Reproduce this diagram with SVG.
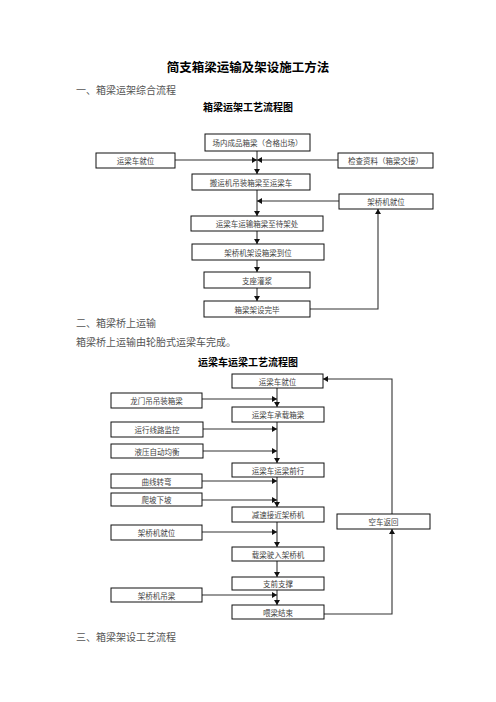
<svg xmlns="http://www.w3.org/2000/svg" width="496" height="702" viewBox="0 0 496 702">
<defs>
<marker id="ah" markerUnits="userSpaceOnUse" markerWidth="6" markerHeight="6" refX="5" refY="3" orient="auto">
<path d="M0,0 L5,3 L0,6 Z" fill="#111"/>
</marker>
</defs>
<style>
text{font-family:"Noto Sans CJK SC","Noto Sans",sans-serif}
.t{font-size:12.5px;font-weight:bold;fill:#000;text-anchor:middle}
.h{font-size:10px;fill:#555}
.st{font-size:10px;font-weight:bold;fill:#000;text-anchor:middle}
.n rect{fill:#fff;stroke:#111;stroke-width:1}
.n text{font-size:7.5px;fill:#444;text-anchor:middle;dominant-baseline:central}
.c path{fill:none;stroke:#333;stroke-width:1.1}
.c .a{marker-end:url(#ah)}
</style>
<rect width="496" height="702" fill="#fff"/>
<text class="t" x="248" y="72">简支箱梁运输及架设施工方法</text>
<text class="h" x="76" y="94">一、箱梁运架综合流程</text>
<text class="st" x="248" y="111">箱梁运架工艺流程图</text>
<text class="h" x="76" y="327">二、箱梁桥上运输</text>
<text class="h" x="76" y="346">箱梁桥上运输由轮胎式运梁车完成。</text>
<text class="st" x="248" y="366">运梁车运梁工艺流程图</text>
<text class="h" x="76" y="641">三、箱梁架设工艺流程</text>

<g class="c">
<path class="a" d="M257,151 V174"/>
<path class="a" d="M175,160 H257"/>
<path class="a" d="M338,160 H257"/>
<path class="a" d="M257,190 V216"/>
<path class="a" d="M339,201 H257"/>
<path class="a" d="M257,231 V244"/>
<path class="a" d="M257,260 V272"/>
<path class="a" d="M257,288 V301"/>
<path class="a" d="M310,309 H378 V209"/>

<path class="a" d="M277,388 V407"/>
<path class="a" d="M202,399 H277"/>
<path class="a" d="M277,422 V463"/>
<path class="a" d="M203,429 H277"/>
<path class="a" d="M203,451 H277"/>
<path class="a" d="M277,477 V507"/>
<path class="a" d="M202,481 H277"/>
<path class="a" d="M202,500 H277"/>
<path class="a" d="M277,522 V547"/>
<path class="a" d="M202,532 H277"/>
<path class="a" d="M277,561 V577"/>
<path class="a" d="M277,590 V605"/>
<path class="a" d="M202,595 H277"/>
<path class="a" d="M324,614 H392 V529"/>
<path class="a" d="M392,514 V379 H323"/>
</g>

<g id="n1" class="n"><rect x="205" y="134" width="105" height="17"/><text x="257.5" y="142.5">场内成品箱梁（合格出场）</text></g>
<g id="n2" class="n"><rect x="96" y="153" width="79" height="15"/><text x="135.5" y="160.5">运梁车就位</text></g>
<g id="n3" class="n"><rect x="338" y="153" width="95" height="15"/><text x="385.5" y="160.5">检查资料（箱梁交接）</text></g>
<g id="n4" class="n"><rect x="192" y="174" width="118" height="16"/><text x="251" y="182">搬运机吊装箱梁至运梁车</text></g>
<g id="n5" class="n"><rect x="339" y="194" width="94" height="15"/><text x="386" y="201.5">架桥机就位</text></g>
<g id="n6" class="n"><rect x="191" y="216" width="132" height="15"/><text x="257" y="223.5">运梁车运输箱梁至待架处</text></g>
<g id="n7" class="n"><rect x="192" y="244" width="132" height="16"/><text x="258" y="252">架桥机架设箱梁到位</text></g>
<g id="n8" class="n"><rect x="204" y="272" width="106" height="16"/><text x="257" y="280">支座灌浆</text></g>
<g id="n9" class="n"><rect x="204" y="301" width="106" height="16"/><text x="257" y="309">箱梁架设完毕</text></g>

<g id="m1" class="n"><rect x="232" y="374" width="91" height="14"/><text x="277.5" y="381">运梁车就位</text></g>
<g id="l1" class="n"><rect x="111" y="393" width="91" height="15"/><text x="156.5" y="400.5">龙门吊吊装箱梁</text></g>
<g id="m2" class="n"><rect x="232" y="407" width="92" height="15"/><text x="278" y="414.5">运梁车承载箱梁</text></g>
<g id="l2" class="n"><rect x="111" y="422" width="92" height="15"/><text x="157" y="429.5">运行线路监控</text></g>
<g id="l3" class="n"><rect x="111" y="444" width="92" height="14"/><text x="157" y="451">液压自动均衡</text></g>
<g id="m3" class="n"><rect x="232" y="463" width="92" height="14"/><text x="278" y="470">运梁车运梁前行</text></g>
<g id="l4" class="n"><rect x="111" y="474" width="91" height="14"/><text x="156.5" y="481">曲线转弯</text></g>
<g id="l5" class="n"><rect x="111" y="493" width="91" height="13"/><text x="156.5" y="499.5">爬坡下坡</text></g>
<g id="m4" class="n"><rect x="232" y="507" width="92" height="15"/><text x="278" y="514.5">减速接近架桥机</text></g>
<g id="r1" class="n"><rect x="337" y="514" width="93" height="15"/><text x="383.5" y="521.5">空车返回</text></g>
<g id="l6" class="n"><rect x="111" y="525" width="91" height="15"/><text x="156.5" y="532.5">架桥机就位</text></g>
<g id="m5" class="n"><rect x="232" y="547" width="92" height="14"/><text x="278" y="554">载梁驶入架桥机</text></g>
<g id="m6" class="n"><rect x="232" y="577" width="92" height="13"/><text x="278" y="583.5">支前支撑</text></g>
<g id="l7" class="n"><rect x="111" y="588" width="91" height="14"/><text x="156.5" y="595">架桥机吊梁</text></g>
<g id="m7" class="n"><rect x="232" y="605" width="92" height="14"/><text x="278" y="612">喂梁结束</text></g>
</svg>
